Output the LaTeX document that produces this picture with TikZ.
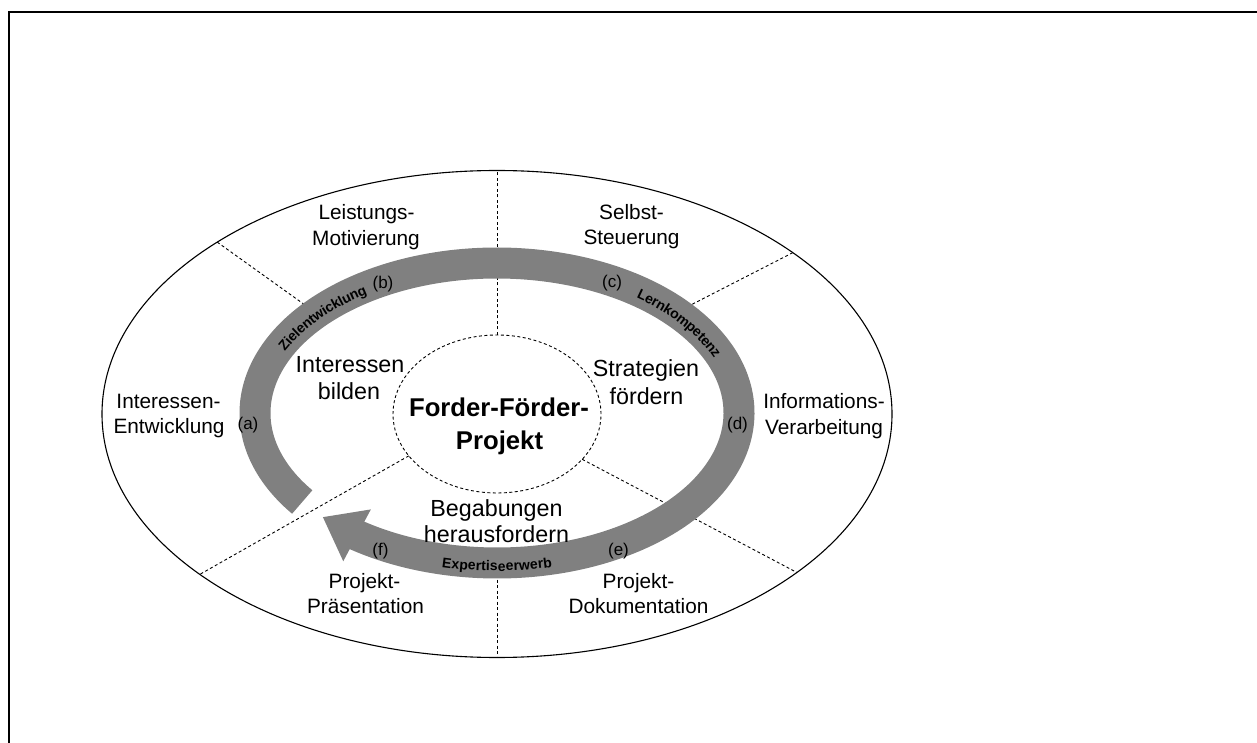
\documentclass[tikz,border=0pt]{standalone}
\usepackage{fontspec}
\setmainfont{Liberation Sans}
\usetikzlibrary{arrows.meta,bending,decorations.text}
\definecolor{bandgray}{RGB}{128,128,128}
\begin{document}
\begin{tikzpicture}[x=1pt,y=1pt,
  outerlbl/.style={anchor=base,inner sep=0pt,font=\fontsize{20.8}{25}\selectfont},
  biglbl/.style={anchor=base,inner sep=0pt,font=\fontsize{23.3}{28}\selectfont},
  centerlbl/.style={anchor=base,inner sep=0pt,font=\bfseries\fontsize{25.7}{31}\selectfont},
  letterlbl/.style={inner sep=0pt,font=\fontsize{17}{20}\selectfont},
  divline/.style={dash pattern=on 3pt off 2.5pt,line width=0.9pt},
  ringline/.style={line width=1.1pt},
  band/.style={draw=bandgray,line width=31pt,-{Triangle[length=39pt,width=56pt,flex]}},
  bandtext/.style={decorate,decoration={text along path,text align=center,raise=#1}}
]
\useasboundingbox (0,0) rectangle (1257,742);
\clip (0,0) rectangle (1257,742);
% frame
\draw[line width=2pt] (9,-20) -- (9,730) -- (1280,730);
% centres
\coordinate (C) at (497,328);
\coordinate (B) at (497,329);
% outer ellipse
\draw[ringline] (C) ellipse [x radius=395, y radius=243.5];
% points
\path (C) ++(135.1:395 and 243.5) coordinate (oUL);
\path (C) ++(41.5:395 and 243.5) coordinate (oUR);
\path (C) ++(90:395 and 243.5) coordinate (oT);
\path (C) ++(270:395 and 243.5) coordinate (oB);
\path (C) ++(221.2:395 and 243.5) coordinate (oLL);
\path (C) ++(319.4:395 and 243.5) coordinate (oLR);
\path (C) ++(90:104 and 79) coordinate (iT);
\path (C) ++(212:104 and 79) coordinate (iLL);
\path (C) ++(325:104 and 79) coordinate (iLR);
\path (B) ++(270:242 and 150) coordinate (bB);
\coordinate (bUL) at (312,432);
\coordinate (bUR) at (683,433);
% dividing lines
\draw[divline] (oUL) -- (bUL);
\draw[divline] (oUR) -- (bUR);
\draw[divline] (iT) -- (oT);
\draw[divline] (bB) -- (oB);
\draw[divline] (iLL) -- (oLL);
\draw[divline] (iLR) -- (oLR);
% inner ellipse
\draw[divline] (C) ellipse [x radius=104, y radius=79];
% band arrow
\draw[band] (B) ++(216.4:242 and 150) arc[start angle=216.4, end angle=-136.1, x radius=242, y radius=150];
% band texts
\path[bandtext=-7pt,decoration={text={|\bfseries\fontsize{14}{14}\selectfont|Zielentwicklung}}]
  (B) ++(165:242 and 150) arc[start angle=165, end angle=115, x radius=242, y radius=150];
\path[bandtext=-7pt,decoration={text={|\bfseries\fontsize{14}{14}\selectfont|Lernkompetenz}}]
  (B) ++(62:242 and 150) arc[start angle=62, end angle=12, x radius=242, y radius=150];
\path[bandtext=-8pt,decoration={text={|\bfseries\fontsize{14}{14}\selectfont|Expertiseerwerb}}]
  (B) ++(-118:242 and 150) arc[start angle=-118, end angle=-62, x radius=242, y radius=150];
% outer labels
\node[outerlbl] (lei1) at (366.5,522) {Leistungs-};
\node[outerlbl] (lei2) at (366,496) {Motivierung};
\node[outerlbl] (sel1) at (631.5,522) {Selbst-};
\node[outerlbl] (sel2) at (631.5,497) {Steuerung};
\node[outerlbl] (int1) at (168.5,333) {Interessen-};
\node[outerlbl] (int2) at (169,308) {Entwicklung};
\node[outerlbl] (inf1) at (824,333) {Informations-};
\node[outerlbl] (inf2) at (824,307) {Verarbeitung};
\node[outerlbl] (pp1) at (364.5,154) {Projekt-};
\node[outerlbl] (pp2) at (365.5,129) {Präsentation};
\node[outerlbl] (pd1) at (638.5,154) {Projekt-};
\node[outerlbl] (pd2) at (638.5,129) {Dokumentation};
% inner labels
\node[biglbl] (ib1) at (350,369.3) {Interessen};
\node[biglbl] (ib2) at (349,342) {bilden};
\node[biglbl] (sf1) at (646,365.3) {Strategien};
\node[biglbl] (sf2) at (646.5,337) {fördern};
\node[biglbl] (bh1) at (496.5,226) {Begabungen};
\node[biglbl] (bh2) at (496.5,200) {herausfordern};
% centre
\node[centerlbl] (ff1) at (499,325) {Forder-Förder-};
\node[centerlbl] (ff2) at (499.5,292.7) {Projekt};
% letters
\node[letterlbl] (la) at (248,317) {(a)};
\node[letterlbl] (lb) at (383,458) {(b)};
\node[letterlbl] (lc) at (612,458.5) {(c)};
\node[letterlbl] (ld) at (737.5,316.5) {(d)};
\node[letterlbl] (le) at (618.5,190.5) {(e)};
\node[letterlbl] (lf) at (380.5,190.5) {(f)};
\end{tikzpicture}
\end{document}
